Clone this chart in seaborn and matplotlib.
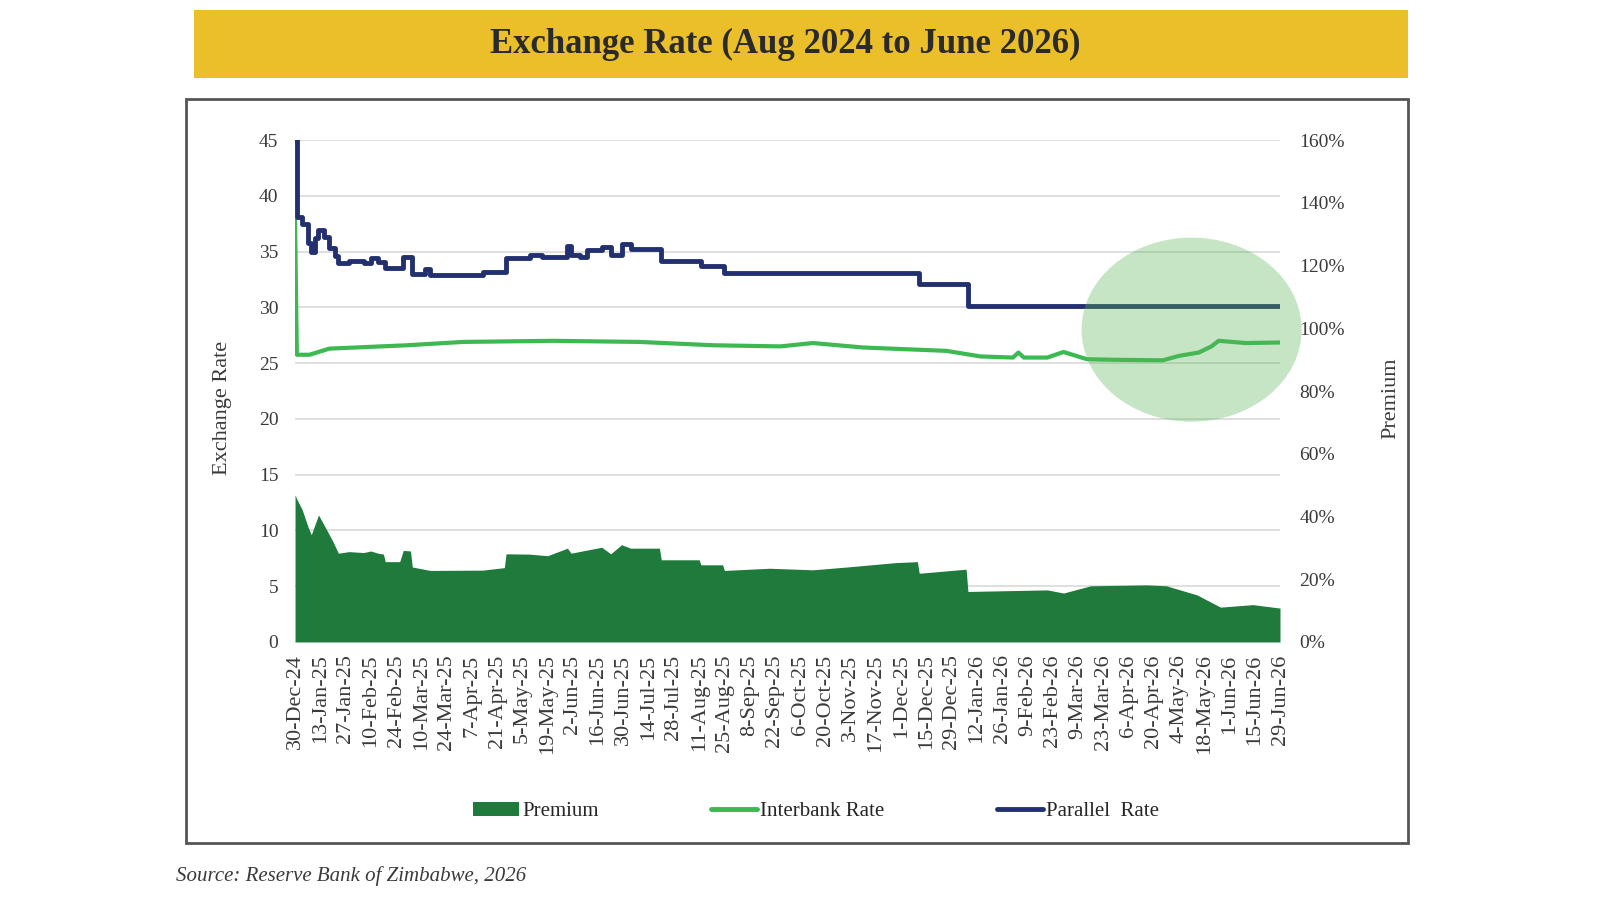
import pandas as pd
import matplotlib
matplotlib.use("Agg")
import matplotlib.pyplot as plt
import matplotlib.dates as mdates
from matplotlib.patches import Ellipse, Rectangle, Patch
from matplotlib.lines import Line2D
import seaborn as sns

# Parallel market rate (step series)
parallel_dates = [
    "2024-12-30", "2024-12-31", "2025-01-03", "2025-01-06", "2025-01-08", "2025-01-10",
    "2025-01-12", "2025-01-15", "2025-01-18", "2025-01-21", "2025-01-23", "2025-01-29",
    "2025-02-06", "2025-02-10", "2025-02-14", "2025-02-18", "2025-02-28", "2025-03-05",
    "2025-03-12", "2025-03-15", "2025-04-13", "2025-04-26", "2025-05-09", "2025-05-16",
    "2025-05-30", "2025-06-01", "2025-06-06", "2025-06-10", "2025-06-18", "2025-06-23",
    "2025-06-29", "2025-07-04", "2025-07-21", "2025-08-12", "2025-08-25", "2025-12-11",
    "2026-01-07", "2026-06-29",
]
parallel_rate = [
    45.0, 38.1, 37.5, 35.8, 35.0, 36.2,
    36.9, 36.3, 35.3, 34.6, 34.0, 34.2,
    34.0, 34.4, 34.1, 33.5, 34.55, 33.0,
    33.4, 32.9, 33.2, 34.4, 34.7, 34.5,
    35.5, 34.7, 34.5, 35.1, 35.4, 34.7,
    35.7, 35.2, 34.2, 33.7, 33.1, 32.1,
    30.1, 30.1,
]

# Official interbank rate
interbank_dates = [
    "2024-12-30", "2024-12-31", "2025-01-07", "2025-01-18", "2025-03-02", "2025-04-02",
    "2025-05-22", "2025-07-09", "2025-08-19", "2025-09-25", "2025-10-13", "2025-11-10",
    "2025-12-26", "2026-01-14", "2026-02-01", "2026-02-04", "2026-02-07", "2026-02-20",
    "2026-03-01", "2026-03-14", "2026-03-29", "2026-04-25", "2026-05-04", "2026-05-15",
    "2026-05-22", "2026-05-26", "2026-06-10", "2026-06-29",
]
interbank_rate = [
    37.8, 25.75, 25.75, 26.3, 26.6, 26.9,
    27.0, 26.9, 26.6, 26.5, 26.8, 26.4,
    26.1, 25.6, 25.5, 25.95, 25.5, 25.5,
    26.0, 25.35, 25.3, 25.25, 25.65, 25.95,
    26.5, 27.0, 26.8, 26.85,
]

# Parallel market premium (%)
premium_dates = [
    "2024-12-30", "2024-12-31", "2025-01-03", "2025-01-06", "2025-01-08", "2025-01-12",
    "2025-01-16", "2025-01-20", "2025-01-23", "2025-01-29", "2025-02-06", "2025-02-10",
    "2025-02-14", "2025-02-17", "2025-02-18", "2025-02-26", "2025-02-28", "2025-03-04",
    "2025-03-05", "2025-03-15", "2025-04-13", "2025-04-25", "2025-04-26", "2025-05-09",
    "2025-05-19", "2025-05-30", "2025-06-01", "2025-06-18", "2025-06-23", "2025-06-29",
    "2025-07-04", "2025-07-20", "2025-07-21", "2025-08-11", "2025-08-12", "2025-08-24",
    "2025-08-25", "2025-09-19", "2025-10-13", "2025-11-01", "2025-11-28", "2025-12-10",
    "2025-12-11", "2026-01-06", "2026-01-07", "2026-02-20", "2026-03-01", "2026-03-16",
    "2026-04-16", "2026-04-27", "2026-05-14", "2026-05-27", "2026-06-14", "2026-06-29",
]
premium_pct = [
    46.9, 45.5, 42.1, 37.0, 34.2, 40.5,
    36.3, 32.0, 28.3, 28.8, 28.5, 29.0,
    28.3, 28.0, 25.6, 25.6, 29.2, 29.0,
    23.9, 22.8, 22.9, 23.7, 28.1, 28.0,
    27.5, 29.9, 28.3, 30.2, 28.1, 31.0,
    29.9, 29.9, 26.2, 26.2, 24.6, 24.6,
    22.8, 23.5, 23.0, 23.9, 25.3, 25.6,
    21.9, 23.2, 16.1, 16.6, 15.6, 17.9,
    18.2, 17.9, 15.0, 11.1, 11.9, 10.8,
]

rate_ticks = list(range(0, 50, 5))
premium_ticks = list(range(0, 180, 20))

C_PARALLEL = "#23306f"
C_INTERBANK = "#3cb951"
C_PREMIUM = "#1e7b3c"
C_TEXT = "#3a3a3a"

sns.set_theme(style="white")
plt.rcParams["font.family"] = ["Liberation Serif", "DejaVu Serif"]

fig = plt.figure(figsize=(16, 9), dpi=100)

# yellow title banner and chart frame
fig.add_artist(Rectangle((0.121, 0.9133), 0.759, 0.0756, transform=fig.transFigure,
                         facecolor="#eabf2a", edgecolor="none"))
fig.text(0.491, 0.951, "Exchange Rate (Aug 2024 to June 2026)", ha="center", va="center",
         fontsize=25, fontweight="bold", color="#2a2a2a")
fig.add_artist(Rectangle((186 / 1600, 1 - 843 / 900), (1408 - 186) / 1600, (843 - 99) / 900,
                         transform=fig.transFigure, fill=False, edgecolor="#555555", lw=2))

ax = fig.add_axes([0.1844, 0.2867, 0.6156, 0.5577])
ax2 = ax.twinx()

x_par = pd.to_datetime(parallel_dates)
x_int = pd.to_datetime(interbank_dates)
x_pre = pd.to_datetime(premium_dates)

ax2.fill_between(x_pre, premium_pct, 0, color=C_PREMIUM, lw=0)
sns.lineplot(x=x_int, y=interbank_rate, ax=ax, color=C_INTERBANK, lw=3)
sns.lineplot(x=x_par, y=parallel_rate, ax=ax, color=C_PARALLEL, lw=3.5, drawstyle="steps-post")

start, end = x_par[0], x_par[-1]
ax.set_xlim(start, end)
ax.set_ylim(0, 45)
ax.set_yticks(rate_ticks)
ax2.set_ylim(0, 160)
ax2.set_yticks(premium_ticks)
ax2.set_yticklabels([f"{t}%" for t in premium_ticks])

xticks = pd.date_range(start, end, freq="14D")
ax.set_xticks(xticks)
ax.set_xticklabels([f"{d.day}-{d.strftime('%b-%y')}" for d in xticks], rotation=90,
                   fontsize=16, color=C_TEXT)

ax.grid(axis="y", color="#d9d9d9", lw=1.2)
ax.grid(axis="x", visible=False)
ax2.grid(False)
for a in (ax, ax2):
    for s in a.spines.values():
        s.set_visible(False)
    a.set_xlabel("")
    a.set_ylabel("")
ax.tick_params(axis="x", length=0, pad=9)
ax.tick_params(axis="y", length=0, pad=12, labelsize=14, labelcolor=C_TEXT)
ax2.tick_params(axis="y", length=0, pad=14, labelsize=14, labelcolor=C_TEXT)

# highlight on the recent convergence
hl = Ellipse((mdates.date2num(pd.Timestamp("2026-05-11")), 28.0), width=122, height=16.5,
             transform=ax.transData, facecolor=(0.35, 0.71, 0.35), alpha=0.35,
             edgecolor="none", clip_on=False, zorder=5)
ax2.add_artist(hl)

fig.text(0.139, 0.547, "Exchange Rate", rotation=90, ha="center", va="center",
         fontsize=16, color=C_TEXT)
fig.text(0.869, 0.558, "Premium", rotation=90, ha="center", va="center",
         fontsize=16, color=C_TEXT)

handles = [Patch(facecolor=C_PREMIUM, edgecolor="none"),
           Line2D([], [], color=C_INTERBANK, lw=3.5),
           Line2D([], [], color=C_PARALLEL, lw=3.5)]
fig.legend(handles, ["Premium", "Interbank Rate", "Parallel  Rate"], loc="center",
           bbox_to_anchor=(0.51, 0.098), ncol=3, frameon=False, fontsize=15,
           columnspacing=5.4, handlelength=2.2, handleheight=0.6, handletextpad=0.15)

fig.text(0.11, 0.027, "Source: Reserve Bank of Zimbabwe, 2026", style="italic",
         fontsize=15, color=C_TEXT, va="center")

fig.savefig("out.png", dpi=100)
